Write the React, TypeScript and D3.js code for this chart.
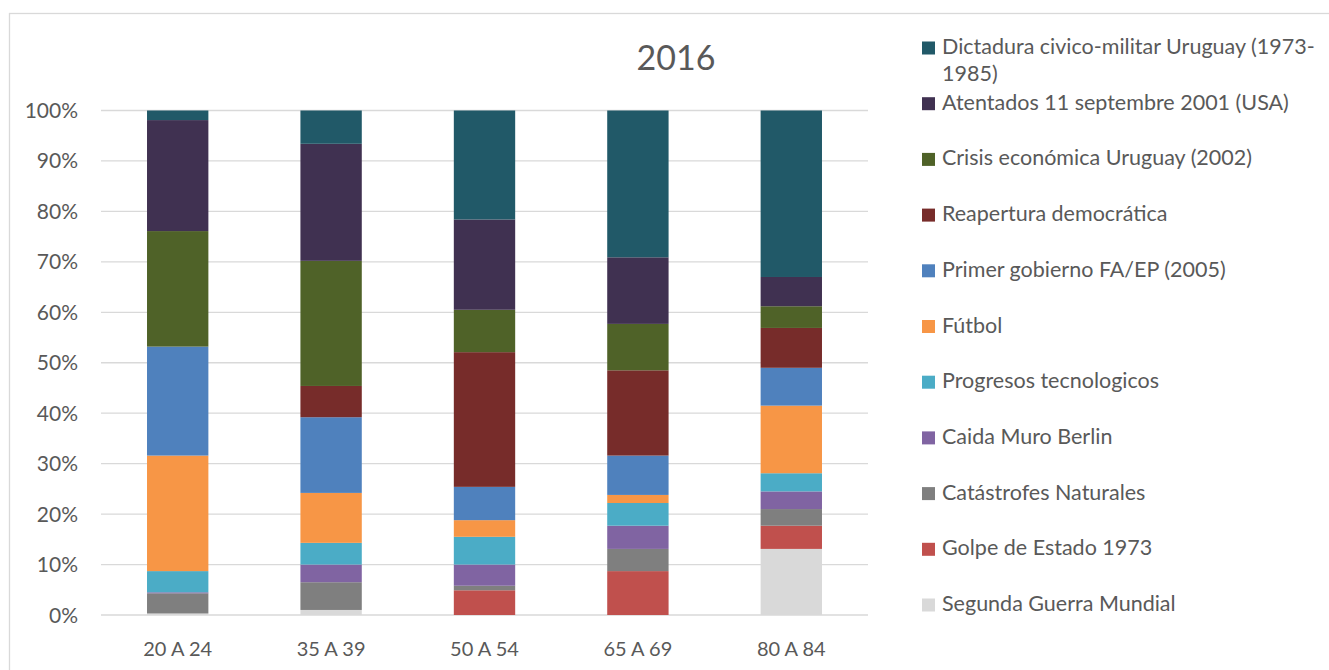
import React, { useEffect, useRef } from "react";
import * as d3 from "d3";

const width = 1329;
const height = 670;

const ageGroups = ["20 A 24", "35 A 39", "50 A 54", "65 A 69", "80 A 84"];

// series values (% per age group)
const segundaGuerra = [0.3, 1.0, 0, 0, 13.1];
const golpeEstado = [0, 0, 4.9, 8.7, 4.6];
const catastrofes = [4.0, 5.5, 0.9, 4.4, 3.3];
const caidaMuro = [0.2, 3.5, 4.2, 4.6, 3.5];
const progresos = [4.2, 4.3, 5.5, 4.5, 3.6];
const futbol = [22.9, 9.9, 3.3, 1.6, 13.4];
const primerGobierno = [21.6, 15.0, 6.6, 7.8, 7.5];
const reapertura = [0, 6.2, 26.7, 16.9, 7.9];
const crisis = [22.9, 24.8, 8.4, 9.2, 4.3];
const atentados = [22.0, 23.2, 17.9, 13.2, 5.8];
const dictadura = [1.9, 6.6, 21.6, 29.1, 33.0];

const yTicks = [0, 0.1, 0.2, 0.3, 0.4, 0.5, 0.6, 0.7, 0.8, 0.9, 1];

// stacking order, bottom to top
const series = [
  { name: "Segunda Guerra Mundial", values: segundaGuerra, color: "#D9D9D9" },
  { name: "Golpe de Estado 1973", values: golpeEstado, color: "#C0504D" },
  { name: "Catástrofes Naturales", values: catastrofes, color: "#7F7F7F" },
  { name: "Caida Muro Berlin", values: caidaMuro, color: "#8064A2" },
  { name: "Progresos tecnologicos", values: progresos, color: "#4BACC6" },
  { name: "Fútbol", values: futbol, color: "#F79646" },
  { name: "Primer gobierno FA/EP (2005)", values: primerGobierno, color: "#4F81BD" },
  { name: "Reapertura democrática", values: reapertura, color: "#772C2A" },
  { name: "Crisis económica Uruguay (2002)", values: crisis, color: "#4F6228" },
  { name: "Atentados 11 septembre 2001 (USA)", values: atentados, color: "#403151" },
  { name: "Dictadura civico-militar Uruguay (1973-1985)", values: dictadura, color: "#215968" },
];

const font = "Lato, 'Open Sans', sans-serif";
const textColor = "#595959";

function drawChart(node: SVGSVGElement) {
  const svg = d3.select(node);
  svg.selectAll("*").remove();

  const margin = { top: 110.5, bottom: 615, left: 101, right: 868 };

  const table = ageGroups.map((g, i) => {
    const row: any = { group: g };
    series.forEach(s => (row[s.name] = s.values[i]));
    return row;
  });

  const stacked = d3.stack<any>()
    .keys(series.map(s => s.name))
    .offset(d3.stackOffsetExpand)(table);

  const x = d3.scaleBand()
    .domain(ageGroups)
    .range([margin.left, margin.right])
    .paddingInner(0.6)
    .paddingOuter(0.3);

  const y = d3.scaleLinear()
    .domain([0, 1])
    .range([margin.bottom, margin.top]);

  // chart border
  svg.append("rect")
    .attr("x", 9.5).attr("y", 13.5)
    .attr("width", width).attr("height", height)
    .attr("fill", "none")
    .attr("stroke", "#D9D9D9")
    .attr("stroke-width", 1.3);

  // gridlines
  svg.append("g")
    .selectAll("line")
    .data(yTicks)
    .enter()
    .append("line")
    .attr("x1", margin.left).attr("x2", margin.right)
    .attr("y1", d => y(d)).attr("y2", d => y(d))
    .attr("stroke", "#D9D9D9")
    .attr("stroke-width", 1.3);

  // y labels
  svg.append("g")
    .selectAll("text")
    .data(yTicks)
    .enter()
    .append("text")
    .attr("x", 78)
    .attr("y", d => y(d) + 7.5)
    .attr("text-anchor", "end")
    .style("font-family", font)
    .style("font-size", "21px")
    .attr("fill", textColor)
    .text(d => d3.format(".0%")(d));

  // bars
  const layers = svg.append("g")
    .selectAll("g")
    .data(stacked)
    .enter()
    .append("g")
    .attr("fill", (d, i) => series[i].color);

  layers.selectAll("rect")
    .data(d => d)
    .enter()
    .append("rect")
    .attr("x", d => x(d.data.group) as number)
    .attr("width", x.bandwidth())
    .attr("y", d => y(d[1]))
    .attr("height", d => Math.max(0, y(d[0]) - y(d[1])));

  // x labels
  svg.append("g")
    .selectAll("text")
    .data(ageGroups)
    .enter()
    .append("text")
    .attr("x", d => (x(d) as number) + x.bandwidth() / 2)
    .attr("y", 656)
    .attr("text-anchor", "middle")
    .style("font-family", font)
    .style("font-size", "20px")
    .attr("fill", textColor)
    .text(d => d);

  // title
  svg.append("text")
    .attr("x", 676)
    .attr("y", 70)
    .attr("text-anchor", "middle")
    .style("font-family", font)
    .style("font-size", "34px")
    .attr("fill", textColor)
    .text("2016");

  // legend, top to bottom is reverse of stacking
  const legendItems = series.slice().reverse();
  const legend = svg.append("g")
    .selectAll("g")
    .data(legendItems)
    .enter()
    .append("g")
    .attr("transform", (d, i) => `translate(922, ${48 + i * 55.7})`);

  legend.append("rect")
    .attr("x", 0).attr("y", -6.5)
    .attr("width", 13).attr("height", 13)
    .attr("fill", d => d.color);

  const labels = legend.append("text")
    .attr("x", 20)
    .attr("y", 6)
    .style("font-family", font)
    .style("font-size", "21.5px")
    .attr("fill", textColor);

  // the first entry wraps onto two lines
  labels.each(function (d) {
    const t = d3.select(this);
    if (d.name.indexOf("(1973-1985)") >= 0) {
      t.append("tspan").attr("x", 20).text("Dictadura civico-militar Uruguay (1973-");
      t.append("tspan").attr("x", 20).attr("dy", 27).text("1985)");
    } else {
      t.text(d.name);
    }
  });
}

export default function App() {
  const ref = useRef<SVGSVGElement>(null);

  useEffect(() => {
    if (ref.current) drawChart(ref.current);
  }, []);

  return (
    <div style={{ position: "absolute", left: 0, top: 0 }}>
      <svg ref={ref} width={width} height={height} style={{ display: "block", background: "#fff" }} />
    </div>
  );
}
